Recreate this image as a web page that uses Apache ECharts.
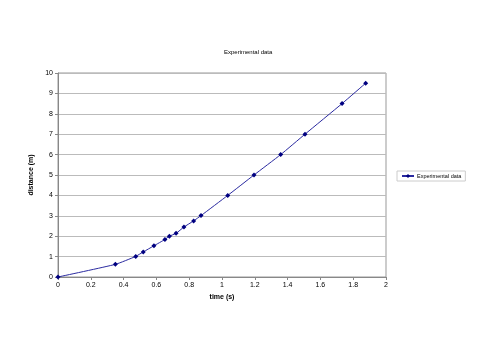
<!DOCTYPE html>
<html><head><meta charset="utf-8">
<script src="https://cdn.jsdelivr.net/npm/echarts@6/dist/echarts.min.js"></script>
<style>html,body{margin:0;padding:0;background:#fff}#c{width:500px;height:354px}</style>
</head><body><div id="c"></div>
<script>
var timeS = [0, 0.35, 0.474, 0.52, 0.585, 0.652, 0.679, 0.72, 0.768, 0.827, 0.872, 1.035, 1.195, 1.358, 1.506, 1.732, 1.876];
var distM = [0, 0.62, 1.01, 1.23, 1.53, 1.84, 2.0, 2.14, 2.45, 2.75, 3.01, 4.0, 5.0, 6.0, 7.0, 8.5, 9.5];
var seriesName = 'Experimental data';
var titleText = 'Experimental data';
var xName = 'time (s)';
var yName = 'distance (m)';

var pts = timeS.map(function (t, i) { return [t, distM[i]]; });
var font = 'Liberation Sans, Arial, sans-serif';
var chart = echarts.init(document.getElementById('c'), null, {renderer: 'canvas'});
chart.setOption({
  animation: false,
  backgroundColor: '#fff',
  title: {text: titleText, left: 224, top: 49, padding: 0, textStyle: {fontSize: 6, fontWeight: 'normal', color: '#000', fontFamily: font}},
  grid: {left: 58, right: 114, top: 73, bottom: 77, show: true, borderColor: '#999', borderWidth: 1},
  legend: {
    left: 397, top: 171, orient: 'vertical', borderColor: '#ccc', borderWidth: 1, padding: [2, 4, 2, 4],
    itemWidth: 12, itemHeight: 5, itemGap: 2,
    textStyle: {fontSize: 5.5, color: '#000', fontFamily: font, padding: [0, 0, 0, -2]},
    data: [seriesName]
  },
  xAxis: {
    type: 'value', min: 0, max: 2, interval: 0.2,
    name: xName, nameLocation: 'middle', nameGap: 17,
    nameTextStyle: {fontSize: 7, fontWeight: 'bold', color: '#000', fontFamily: font},
    axisLine: {show: true, lineStyle: {color: '#888'}},
    axisTick: {show: true, length: 3, lineStyle: {color: '#888'}},
    axisLabel: {fontSize: 7, color: '#000', fontFamily: font, margin: 5},
    splitLine: {show: false}
  },
  yAxis: {
    type: 'value', min: 0, max: 10, interval: 1,
    name: yName, nameLocation: 'middle', nameGap: 18, nameRotate: 90,
    nameTextStyle: {fontSize: 7, fontWeight: 'bold', color: '#000', fontFamily: font},
    axisLine: {show: true, lineStyle: {color: '#888'}},
    axisTick: {show: true, length: 3, lineStyle: {color: '#888'}},
    axisLabel: {fontSize: 7, color: '#000', fontFamily: font, margin: 5},
    splitLine: {show: true, lineStyle: {color: '#bbb', width: 1}}
  },
  series: [{
    name: seriesName, type: 'line', data: pts, smooth: 0.15,
    symbol: 'diamond', symbolSize: 5,
    lineStyle: {color: '#2a2aa0', width: 1},
    itemStyle: {color: '#000080'}
  }]
});
</script></body></html>
